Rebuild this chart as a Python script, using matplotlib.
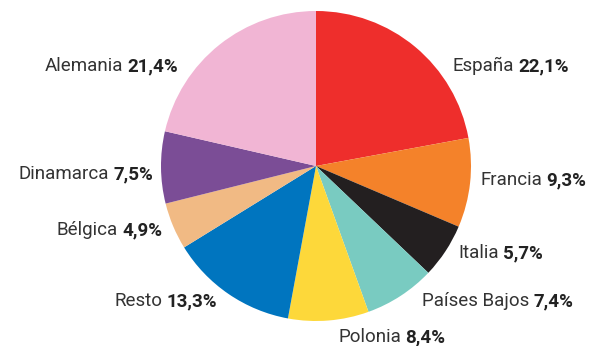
import matplotlib
matplotlib.use("Agg")
import matplotlib.pyplot as plt
from matplotlib.offsetbox import TextArea, HPacker, AnnotationBbox

# Share by country (%), clockwise from the top
countries = ["España", "Francia", "Italia", "Países Bajos", "Polonia",
             "Resto", "Bélgica", "Dinamarca", "Alemania"]
shares = [22.1, 9.3, 5.7, 7.4, 8.4, 13.3, 4.9, 7.5, 21.4]
colors = ["#ee2e2c", "#f4822a", "#231f20", "#79cbc1", "#fdd83a",
          "#0075bf", "#f1ba84", "#7b4d96", "#f1b5d4"]

# label anchor in pixels (x, y from top) and which side the text hangs from
label_pos = [(453, 66, "left"), (480, 180, "left"), (458, 253, "left"),
             (422, 301, "left"), (338, 337, "left"), (217, 301, "right"),
             (162, 230, "right"), (153, 174, "right"), (178, 66, "right")]

W, H = 589, 346
fig = plt.figure(figsize=(W / 100, H / 100), dpi=100)
ax = fig.add_axes([0, 0, 1, 1])

cx, cy, r = 316, 166, 155
ax.pie(shares, colors=colors, startangle=90, counterclock=False,
       center=(cx, H - cy), radius=r, wedgeprops=dict(linewidth=0))
ax.set_xlim(0, W)
ax.set_ylim(0, H)
ax.set_aspect("equal")
ax.axis("off")

fs = 13.5
for name, val, (x, y, side) in zip(countries, shares, label_pos):
    pct = f"{val:.1f}%".replace(".", ",")
    t1 = TextArea(name, textprops=dict(fontsize=fs, color="#333333",
                                       family="Roboto", fontweight="normal"))
    t2 = TextArea(pct, textprops=dict(fontsize=fs, color="#222222",
                                      family="Roboto", fontweight="bold"))
    box = HPacker(children=[t1, t2], pad=0, sep=3, align="baseline")
    ab = AnnotationBbox(box, (x, H - y), xycoords="data", frameon=False,
                        box_alignment=(0 if side == "left" else 1, 0.5), pad=0)
    ax.add_artist(ab)

fig.savefig("out.png", dpi=100, facecolor="white")
